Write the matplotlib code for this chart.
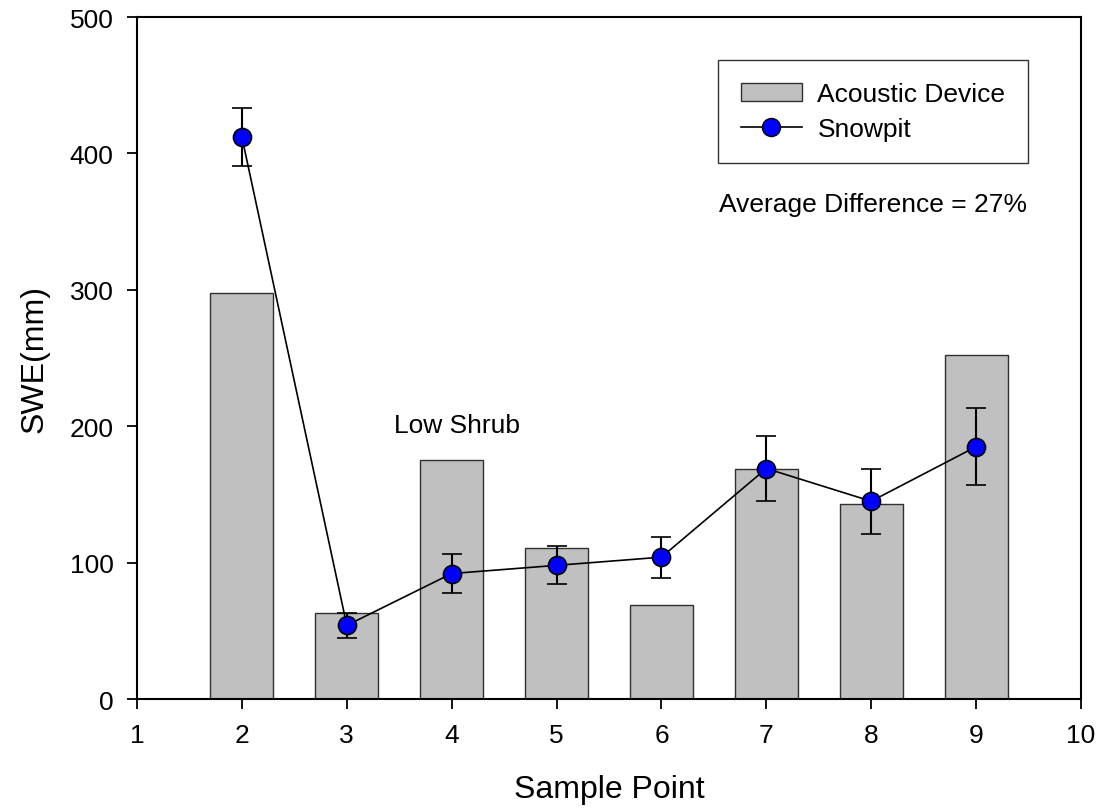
import numpy as np
import matplotlib
matplotlib.use('Agg')
import matplotlib.pyplot as plt
from matplotlib.patches import Patch
from matplotlib.lines import Line2D

matplotlib.rcParams['font.family'] = ['Liberation Sans', 'DejaVu Sans']

# === Data ===
sample_points = [2, 3, 4, 5, 6, 7, 8, 9]
acoustic_swe = [298, 63, 175, 111, 69, 169, 143, 252]
snowpit_swe = [412, 54, 92, 98, 104, 169, 145, 185]
snowpit_err = [21, 9, 14, 14, 15, 24, 24, 28]
x_ticks = [1, 2, 3, 4, 5, 6, 7, 8, 9, 10]
y_ticks = [0, 100, 200, 300, 400, 500]

fig = plt.figure(figsize=(10.97, 8.12), dpi=100)
ax = fig.add_axes([0.1249, 0.1379, 0.8605, 0.8399])

ax.bar(sample_points, acoustic_swe, width=0.6, color='#C0C0C0',
       edgecolor='#303030', linewidth=1.0, zorder=1)
ax.errorbar(sample_points, snowpit_swe, yerr=snowpit_err, color='black',
            linewidth=1.2, elinewidth=1.5, capsize=7.5, capthick=1.5,
            marker='o', markersize=13, markerfacecolor='#0000FF',
            markeredgecolor='black', markeredgewidth=1.2, zorder=3)

ax.set_xlim(1, 10)
ax.set_ylim(0, 500)
ax.set_xticks(x_ticks)
ax.set_yticks(y_ticks)
ax.tick_params(direction='out', length=7, width=1.3, labelsize=19, pad=10)
for s in ax.spines.values():
    s.set_linewidth(1.5)

ax.set_xlabel('Sample Point', fontsize=23, labelpad=20)
ax.set_ylabel('SWE(mm)', fontsize=23, labelpad=14)

ax.text(3.45, 201, 'Low Shrub', fontsize=19, ha='left', va='center')
ax.text(6.55, 363, 'Average Difference = 27%', fontsize=19, ha='left', va='center')

handles = [Patch(facecolor='#C0C0C0', edgecolor='#303030', linewidth=1.0),
           Line2D([], [], color='black', linewidth=1.2, marker='o', markersize=13,
                  markerfacecolor='#0000FF', markeredgecolor='black')]
leg = ax.legend(handles, ['Acoustic Device', 'Snowpit'], loc='upper left',
                bbox_to_anchor=(0.6160, 0.937), fontsize=19, frameon=True,
                fancybox=False, borderpad=0.85, handlelength=2.3,
                handletextpad=0.6, labelspacing=0.4, borderaxespad=0)
leg.get_frame().set_edgecolor('black')
leg.get_frame().set_linewidth(1.0)

fig.savefig('out.png', dpi=100, facecolor='white')
plt.close()
